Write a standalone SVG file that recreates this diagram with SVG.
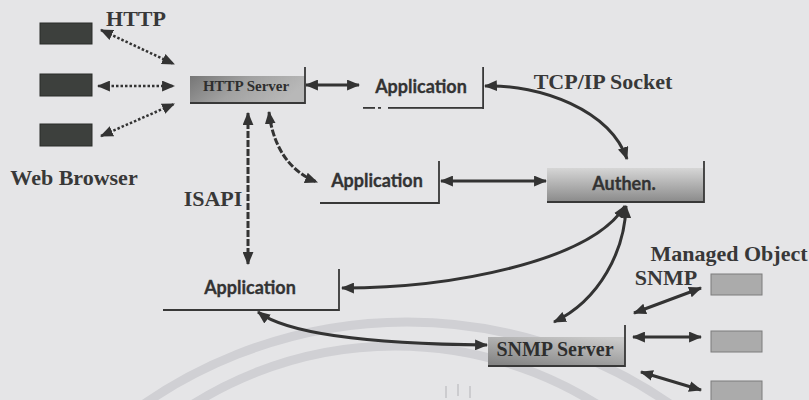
<svg xmlns="http://www.w3.org/2000/svg" width="809" height="400" viewBox="0 0 809 400">
<style>
.lbl{font-family:"Liberation Serif","Times New Roman",serif;font-weight:bold;font-size:22px;fill:#383838;text-anchor:middle}
.srv{font-family:"Liberation Serif","Times New Roman",serif;font-weight:bold;fill:#2e2e2e;text-anchor:middle}
.app{font-family:Lato,"Noto Sans",sans-serif;font-weight:bold;font-size:18px;fill:#333;text-anchor:middle;stroke:#333;stroke-width:0.3}
.edge{fill:none;stroke:#383838;stroke-width:1.8}
.bar{fill:#383838}
.arw{fill:none;stroke:#333;stroke-width:3;marker-start:url(#ah);marker-end:url(#ah)}
.dot{fill:none;stroke:#333;stroke-width:2.5;stroke-dasharray:2.5 2;marker-start:url(#ah);marker-end:url(#ah)}
.dash{fill:none;stroke:#333;stroke-width:3;stroke-dasharray:7 2;marker-start:url(#ah);marker-end:url(#ah)}
.brw{fill:#3d403d;stroke:#2a2c2a;stroke-width:1}
.mo{fill:#ababab;stroke:#7d7d7d;stroke-width:1}
.arc{fill:none;stroke:#d0d0d4;stroke-width:9}
</style>
<defs>
<marker id="ah" viewBox="0 0 12 10" refX="11" refY="5" markerWidth="13" markerHeight="11" markerUnits="userSpaceOnUse" orient="auto-start-reverse">
<path d="M0,0 L12,5 L0,10 z" fill="#333"/>
</marker>
<linearGradient id="gHttp" x1="0" y1="0" x2="1" y2="0.3">
<stop offset="0" stop-color="#767676"/><stop offset="0.5" stop-color="#a2a2a2"/><stop offset="1" stop-color="#b8b8b8"/>
</linearGradient>
<linearGradient id="gAuth" x1="0" y1="0" x2="0" y2="1">
<stop offset="0" stop-color="#d6d6d6"/><stop offset="1" stop-color="#8a8a8a"/>
</linearGradient>
<linearGradient id="gSnmp" x1="0.8" y1="0" x2="0.2" y2="1">
<stop offset="0" stop-color="#cacaca"/><stop offset="1" stop-color="#858585"/>
</linearGradient>
</defs>
<rect width="809" height="400" fill="#e5e5e7"/>
<g id="background-arcs">
<circle class="arc" cx="407" cy="784" r="462"/>
<circle class="arc" cx="395" cy="725" r="379"/>
<path d="M446 386v12M458 384v12M470 386v12" stroke="#c4c4c8" stroke-width="1.5" fill="none"/>
</g>
<g id="connectors">
<path class="dot" d="M101 30 L174 64"/>
<path class="dot" d="M98 86 L174 86"/>
<path class="dot" d="M101 136 L174 104"/>
<path class="arw" d="M306 85 L359 85"/>
<path class="arw" d="M441 181 L546 181"/>
<path class="arw" d="M485 86 C540 84 610 110 627 159"/>
<path class="dash" d="M269 112 C272 140 285 170 317 182"/>
<path class="dash" d="M248 113 L248 264"/>
<path class="arw" d="M342 288 C450 288 590 262 625 206"/>
<path class="arw" d="M626 206 C625 250 600 300 554 322"/>
<path class="arw" d="M258 312 C290 336 380 344 487 345"/>
<path class="arw" d="M634 313 L701 288"/>
<path class="arw" d="M633 337 L701 337"/>
<path class="arw" d="M641 372 L701 390"/>
</g>
<g id="label-http"><text class="lbl" x="136" y="26">HTTP</text></g>
<g id="label-web-browser"><text class="lbl" x="74" y="185">Web Browser</text></g>
<g id="label-tcpip"><text class="lbl" x="603" y="89">TCP/IP Socket</text></g>
<g id="label-isapi"><text class="lbl" x="213" y="206">ISAPI</text></g>
<g id="label-managed-object"><text class="lbl" x="729" y="261" font-size="21">Managed Object</text></g>
<g id="label-snmp"><text class="lbl" x="666" y="285" font-size="21">SNMP</text></g>
<g id="browser-1"><rect class="brw" x="40" y="23" width="52" height="21"/></g>
<g id="browser-2"><rect class="brw" x="40" y="74" width="52" height="22"/></g>
<g id="browser-3"><rect class="brw" x="40" y="124" width="52" height="22"/></g>
<g id="http-server">
<rect x="190" y="76" width="115" height="27" fill="url(#gHttp)"/>
<polyline class="edge" points="190,103 305,103 305,67" stroke-width="2"/>
<text class="srv" x="246" y="91" font-size="15">HTTP Server</text>
</g>
<g id="application-1">
<rect class="bar" x="363" y="107" width="12" height="1.8"/>
<rect class="bar" x="378" y="107" width="3" height="1.8"/>
<rect class="bar" x="388" y="107" width="96" height="1.8"/>
<rect class="bar" x="482.2" y="67" width="1.8" height="42"/>
<text class="app" x="421" y="93">Application</text>
</g>
<g id="application-2">
<polyline class="edge" points="320,203 439,203 439,161"/>
<text class="app" x="377" y="187">Application</text>
</g>
<g id="application-3">
<polyline class="edge" points="163,310 339,310 339,269"/>
<text class="app" x="250" y="294">Application</text>
</g>
<g id="authen">
<rect x="547" y="168" width="157" height="34" fill="url(#gAuth)"/>
<polyline class="edge" points="547,202 704,202 704,161" stroke-width="2"/>
<text class="app" x="624" y="190">Authen.</text>
</g>
<g id="snmp-server">
<rect x="488" y="337" width="137" height="29" fill="url(#gSnmp)"/>
<polyline class="edge" points="488,366 625,366 625,325" stroke-width="2"/>
<text class="srv" x="555" y="356" font-size="20">SNMP Server</text>
</g>
<g id="managed-object-1"><rect class="mo" x="711" y="274" width="51" height="21"/></g>
<g id="managed-object-2"><rect class="mo" x="711" y="331" width="51" height="21"/></g>
<g id="managed-object-3"><rect class="mo" x="711" y="381" width="51" height="22"/></g>
</svg>
